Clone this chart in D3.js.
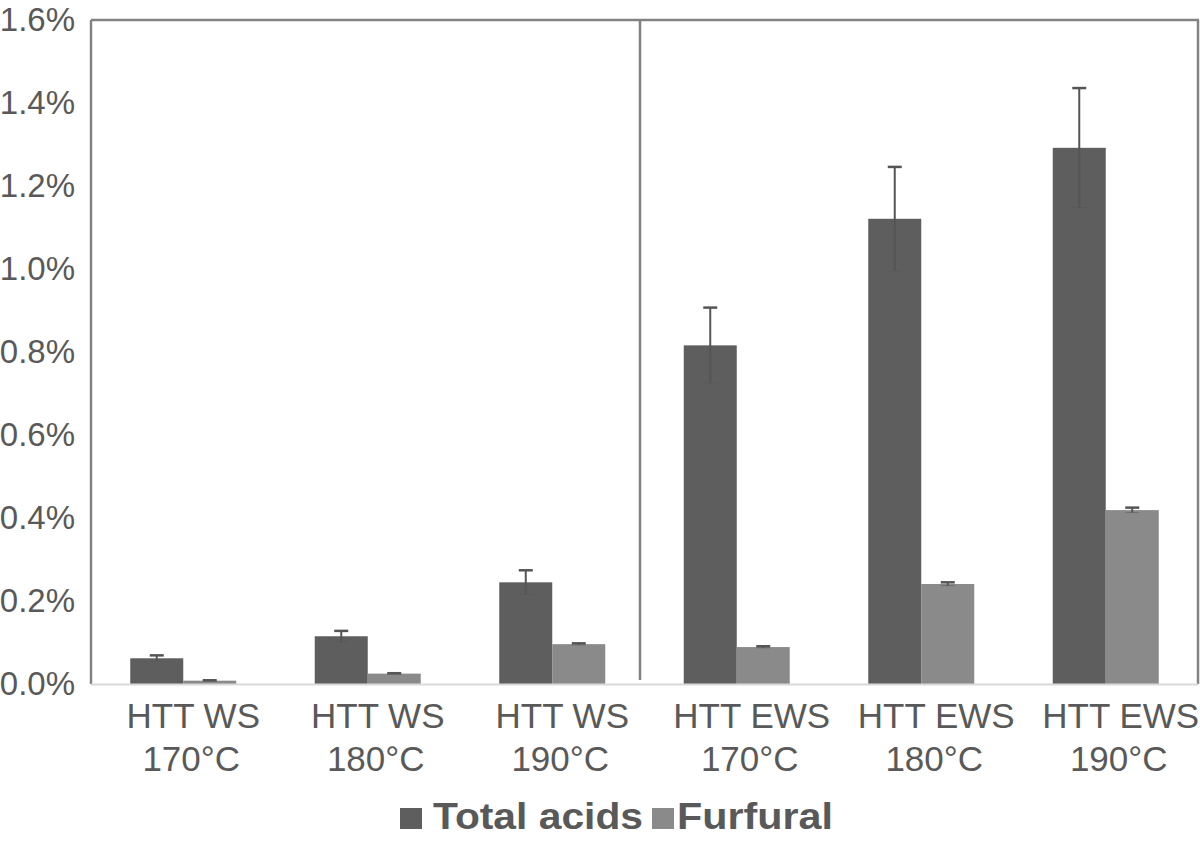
<!DOCTYPE html>
<html><head><meta charset="utf-8">
<script src="https://cdn.jsdelivr.net/npm/d3@7"></script>
<style>body{margin:0;background:#fff}svg{display:block}</style>
</head><body>
<script>
const categories = [["HTT WS","170°C"],["HTT WS","180°C"],["HTT WS","190°C"],["HTT EWS","170°C"],["HTT EWS","180°C"],["HTT EWS","190°C"]];
const seriesNames = ["Total acids","Furfural"];
const totalAcids = [0.062, 0.115, 0.245, 0.816, 1.121, 1.292];
const totalAcidsErr = [0.007, 0.013, 0.029, 0.091, 0.125, 0.144];
const furfural = [0.008, 0.025, 0.096, 0.089, 0.241, 0.419];
const furfuralErr = [0.001, 0.001, 0.002, 0.002, 0.004, 0.006];
const yTicks = [0,0.2,0.4,0.6,0.8,1.0,1.2,1.4,1.6];
const colors = ["#5e5e5e","#8a8a8a"];

(function(){
const W=1200,H=841;
const svg=d3.select("body").append("svg").attr("width",W).attr("height",H);
const pL=91,pR=1198,pT=20,pB=684;
const x=d3.scaleBand().domain(d3.range(categories.length)).range([pL,pR]).paddingInner(0).paddingOuter(0);
const y=d3.scaleLinear().domain([0,1.6]).range([pB,pT]);
const barW=53;
const font="'Liberation Sans', Arial, Helvetica, sans-serif";
const textCol="#595959";

const yAxis=d3.axisLeft(y).tickValues(yTicks).tickFormat(d=>d.toFixed(1)+"%").tickSize(0).tickPadding(16);
const ga=svg.append("g").attr("transform",`translate(${pL},0)`).call(yAxis);
ga.select(".domain").remove();
ga.selectAll("text").attr("font-family",font).attr("font-size",33).attr("fill",textCol);

svg.append("line").attr("x1",pL).attr("x2",pR+1).attr("y1",pT).attr("y2",pT).attr("stroke","#828282").attr("stroke-width",2.5);
svg.append("line").attr("x1",pL).attr("x2",pL).attr("y1",pT).attr("y2",pB).attr("stroke","#828282").attr("stroke-width",2.5);
svg.append("line").attr("x1",pR).attr("x2",pR).attr("y1",pT).attr("y2",pB).attr("stroke","#828282").attr("stroke-width",2.5);
const divX=x(3)-4.5;
svg.append("line").attr("x1",divX).attr("x2",divX).attr("y1",pT).attr("y2",pB-4).attr("stroke","#828282").attr("stroke-width",2.5);

const series=[{vals:totalAcids,err:totalAcidsErr},{vals:furfural,err:furfuralErr}];
series.forEach((s,si)=>{
  svg.append("g").selectAll("rect").data(s.vals).join("rect")
    .attr("x",(d,i)=>x(i)+x.bandwidth()/2-barW+si*barW)
    .attr("width",barW)
    .attr("y",d=>y(d)).attr("height",d=>pB-y(d))
    .attr("fill",colors[si]);
});
svg.append("line").attr("x1",pL).attr("x2",pR).attr("y1",pB+0.5).attr("y2",pB+0.5).attr("stroke","#d9d9d9").attr("stroke-width",2);

series.forEach((s,si)=>{
  const g=svg.append("g").attr("stroke","#555").attr("stroke-width",2);
  s.vals.forEach((v,i)=>{
    const cx=x(i)+x.bandwidth()/2-barW/2+si*barW;
    const e=s.err[i];
    g.append("line").attr("x1",cx).attr("x2",cx).attr("y1",y(v+e)).attr("y2",y(Math.max(0,v-e)));
    g.append("line").attr("x1",cx-7).attr("x2",cx+7).attr("y1",y(v+e)).attr("y2",y(v+e)).attr("stroke-width",2.5);
    g.append("line").attr("x1",cx-7).attr("x2",cx+7).attr("y1",y(Math.max(0,v-e))).attr("y2",y(Math.max(0,v-e))).attr("stroke-width",1).attr("stroke-opacity",0.5);
  });
});

categories.forEach((c,i)=>{
  const cx=x(i)+x.bandwidth()/2+(i<3?10:15);
  const t=svg.append("text").attr("text-anchor","middle")
    .attr("font-family",font).attr("font-size",35).attr("fill",textCol);
  t.append("tspan").attr("x",cx).attr("y",728).text(c[0]);
  t.append("tspan").attr("x",cx-2).attr("y",771).text(c[1]);
});

const legX=[400,652], legTextX=[433,677], legTextW=[210,156];
seriesNames.forEach((n,i)=>{
  svg.append("rect").attr("x",legX[i]).attr("y",808).attr("width",22).attr("height",21).attr("fill",colors[i]);
  svg.append("text").attr("x",legTextX[i]).attr("y",829).attr("font-family",font).attr("font-weight","bold")
    .attr("font-size",37).attr("fill",textCol).attr("textLength",legTextW[i]).attr("lengthAdjust","spacingAndGlyphs").text(n);
});
})();
</script>
</body></html>
